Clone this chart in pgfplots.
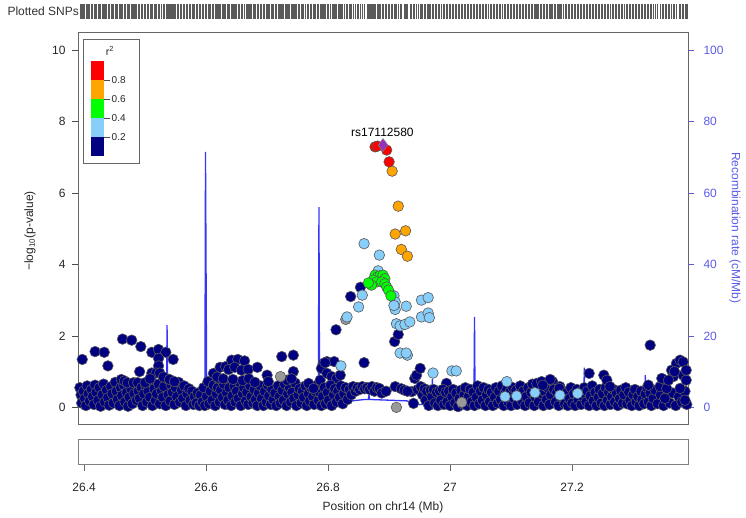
\documentclass[border=0pt]{standalone}
\usepackage{fontspec}
\setmainfont{Liberation Sans}
\usepackage{pgfplots}
\pgfplotsset{compat=1.18}
\usepackage{pgfplotstable}

\definecolor{snpnavy}{HTML}{000080}
\definecolor{snplblue}{HTML}{87CEFA}
\definecolor{snpgreen}{HTML}{00FF00}
\definecolor{snporange}{HTML}{FFA500}
\definecolor{snpred}{HTML}{FF0000}
\definecolor{snppurple}{HTML}{9632B8}
\definecolor{snpgray}{HTML}{999999}
\definecolor{recline}{HTML}{3535F8}
\definecolor{rectext}{HTML}{5A5AE6}

% r2 < 0.2
\pgfplotstableread[row sep=\\]{
x y\\
26.393 0.55\\ 26.395 0.35\\ 26.396 0.12\\ 26.399 0.45\\ 26.401 0.25\\ 26.403 0.05\\ 26.405 0.6\\ 26.407 0.38\\
26.409 0.18\\ 26.412 0.5\\ 26.414 0.3\\ 26.416 0.08\\ 26.418 0.62\\ 26.42 0.42\\ 26.423 0.2\\ 26.425 0.55\\
26.427 0.03\\ 26.43 0.35\\ 26.432 0.65\\ 26.434 0.15\\ 26.437 0.48\\ 26.439 0.27\\ 26.441 0.06\\ 26.444 0.58\\
26.446 0.38\\ 26.448 0.12\\ 26.451 0.7\\ 26.453 0.45\\ 26.455 0.22\\ 26.458 0.05\\ 26.46 0.55\\ 26.462 0.33\\
26.465 0.62\\ 26.467 0.15\\ 26.47 0.42\\ 26.472 0.03\\ 26.474 0.28\\ 26.477 0.52\\ 26.479 0.1\\ 26.482 0.38\\
26.484 0.68\\ 26.486 0.2\\ 26.489 0.45\\
26.397 1.34\\ 26.418 1.56\\ 26.433 1.54\\ 26.439 1.16\\ 26.463 1.91\\ 26.478 1.88\\ 26.461 0.78\\ 26.466 0.74\\
26.471 0.69\\ 26.481 0.69\\ 26.491 1.0\\ 26.493 1.70\\ 26.488 0.69\\
26.491 0.25\\ 26.494 0.55\\ 26.496 0.05\\ 26.498 0.38\\ 26.501 0.62\\ 26.503 0.15\\ 26.505 0.45\\ 26.508 0.28\\
26.51 0.72\\ 26.512 0.05\\ 26.515 0.52\\ 26.517 0.2\\ 26.519 0.38\\ 26.522 0.65\\ 26.524 0.1\\ 26.527 0.45\\
26.529 0.28\\ 26.531 0.58\\ 26.534 0.05\\ 26.536 0.8\\ 26.538 0.35\\ 26.541 0.18\\ 26.543 0.62\\ 26.545 0.42\\
26.548 0.08\\ 26.55 0.55\\ 26.552 0.3\\ 26.555 0.7\\ 26.557 0.15\\ 26.56 0.48\\ 26.562 0.25\\ 26.564 0.6\\
26.567 0.05\\ 26.569 0.38\\ 26.572 0.52\\ 26.574 0.2\\ 26.577 0.45\\ 26.579 0.08\\ 26.581 0.3\\ 26.584 0.12\\
26.586 0.4\\ 26.589 0.05\\
26.511 1.54\\ 26.522 1.62\\ 26.534 1.54\\ 26.522 1.37\\ 26.522 1.16\\ 26.546 1.34\\ 26.511 0.96\\ 26.518 0.96\\
26.524 0.96\\ 26.5 0.69\\ 26.53 0.85\\ 26.54 0.78\\ 26.548 0.72\\ 26.508 0.8\\
26.591 0.35\\ 26.594 0.15\\ 26.596 0.55\\ 26.598 0.05\\ 26.601 0.3\\ 26.603 0.72\\ 26.605 0.1\\ 26.607 0.45\\
26.61 0.2\\ 26.612 0.62\\ 26.615 0.05\\ 26.617 0.38\\ 26.619 0.55\\ 26.622 0.15\\ 26.624 0.48\\ 26.627 0.28\\
26.629 0.65\\ 26.631 0.08\\ 26.634 0.4\\ 26.636 0.2\\ 26.638 0.55\\ 26.641 0.05\\ 26.643 0.32\\ 26.646 0.6\\
26.648 0.15\\ 26.65 0.45\\ 26.653 0.25\\ 26.655 0.7\\ 26.657 0.05\\ 26.66 0.38\\ 26.662 0.55\\ 26.665 0.18\\
26.667 0.42\\ 26.669 0.08\\ 26.672 0.6\\ 26.674 0.3\\ 26.677 0.12\\ 26.679 0.5\\ 26.681 0.22\\ 26.684 0.05\\
26.686 0.4\\ 26.689 0.6\\
26.612 0.95\\ 26.62 0.81\\ 26.623 1.12\\ 26.632 1.14\\ 26.637 1.06\\ 26.642 1.32\\ 26.618 0.85\\ 26.628 0.8\\
26.652 1.34\\ 26.663 1.30\\ 26.647 1.12\\ 26.658 1.04\\ 26.669 1.06\\ 26.684 1.12\\ 26.644 0.78\\ 26.66 0.75\\
26.67 0.8\\ 26.68 0.7\\
26.691 0.25\\ 26.694 0.05\\ 26.696 0.45\\ 26.699 0.15\\ 26.701 0.62\\ 26.703 0.32\\ 26.706 0.08\\ 26.708 0.5\\
26.71 0.22\\ 26.713 0.4\\ 26.715 0.05\\ 26.718 0.6\\ 26.72 0.3\\ 26.722 0.12\\ 26.725 0.48\\ 26.727 0.2\\
26.729 0.65\\ 26.732 0.05\\ 26.734 0.38\\ 26.737 0.55\\ 26.739 0.15\\ 26.741 0.42\\ 26.744 0.25\\ 26.746 0.68\\
26.748 0.05\\ 26.751 0.35\\ 26.753 0.52\\ 26.756 0.12\\ 26.758 0.45\\ 26.76 0.28\\ 26.763 0.6\\ 26.765 0.05\\
26.768 0.38\\ 26.77 0.18\\ 26.772 0.55\\ 26.775 0.3\\ 26.777 0.08\\ 26.779 0.45\\ 26.782 0.62\\ 26.784 0.2\\
26.787 0.4\\ 26.789 0.05\\
26.700 0.9\\ 26.702 0.72\\ 26.724 1.42\\ 26.743 1.46\\ 26.743 1.0\\ 26.733 0.76\\ 26.74 0.8\\ 26.768 0.67\\
26.776 0.53\\ 26.787 0.76\\ 26.792 1.23\\ 26.798 1.28\\ 26.81 1.28\\ 26.789 1.09\\ 26.798 0.95\\ 26.806 0.86\\
26.814 0.81\\ 26.795 1.25\\ 26.82 0.9\\
26.791 0.3\\ 26.794 0.55\\ 26.796 0.1\\ 26.799 0.42\\ 26.801 0.2\\ 26.804 0.62\\ 26.806 0.05\\ 26.809 0.35\\
26.811 0.52\\ 26.814 0.15\\ 26.816 0.45\\ 26.819 0.28\\ 26.821 0.6\\ 26.824 0.1\\ 26.826 0.38\\ 26.829 0.55\\
26.832 0.22\\ 26.835 0.5\\ 26.838 0.35\\ 26.841 0.58\\ 26.845 0.45\\ 26.848 0.55\\ 26.852 0.5\\ 26.856 0.58\\
26.86 0.52\\ 26.864 0.55\\ 26.868 0.5\\ 26.872 0.58\\ 26.876 0.45\\ 26.88 0.55\\ 26.884 0.53\\ 26.888 0.4\\
26.813 2.17\\ 26.837 3.10\\ 26.853 3.36\\ 26.859 1.25\\ 26.909 1.84\\ 26.915 2.04\\
26.895 0.45\\ 26.91 0.58\\ 26.937 0.44\\ 26.94 0.11\\ 26.942 0.81\\ 26.945 0.9\\ 26.951 1.09\\ 26.994 0.67\\
26.92 0.52\\ 26.925 0.48\\ 26.93 0.45\\ 26.947 0.5\\ 26.952 0.58\\ 26.955 0.35\\ 26.958 0.52\\ 26.96 0.2\\
26.962 0.45\\ 26.965 0.05\\ 26.968 0.48\\ 26.97 0.3\\ 26.973 0.5\\ 26.975 0.12\\ 26.978 0.42\\ 26.98 0.05\\
26.983 0.45\\ 26.985 0.2\\ 26.988 0.5\\ 26.99 0.08\\ 26.993 0.42\\ 26.995 0.15\\
26.998 0.45\\ 27.0 0.05\\ 27.003 0.3\\ 27.005 0.5\\ 27.008 0.12\\ 27.01 0.4\\ 27.013 0.02\\ 27.015 0.25\\
27.018 0.48\\ 27.02 0.1\\ 27.023 0.35\\ 27.025 0.55\\ 27.028 0.05\\ 27.03 0.3\\ 27.033 0.5\\ 27.035 0.15\\
27.038 0.42\\ 27.04 0.05\\ 27.043 0.28\\ 27.045 0.6\\ 27.048 0.1\\ 27.05 0.45\\ 27.053 0.2\\ 27.055 0.55\\
27.058 0.05\\ 27.06 0.35\\ 27.063 0.5\\ 27.065 0.15\\ 27.068 0.42\\ 27.07 0.05\\ 27.073 0.28\\ 27.075 0.55\\
27.078 0.12\\ 27.08 0.45\\ 27.083 0.22\\ 27.085 0.6\\ 27.088 0.05\\ 27.09 0.38\\
27.093 0.5\\ 27.095 0.15\\ 27.098 0.42\\ 27.1 0.05\\ 27.103 0.55\\ 27.105 0.25\\ 27.108 0.48\\ 27.11 0.08\\
27.113 0.38\\ 27.115 0.6\\ 27.118 0.18\\ 27.12 0.45\\ 27.123 0.05\\ 27.125 0.3\\ 27.128 0.55\\ 27.13 0.12\\
27.133 0.42\\ 27.135 0.65\\ 27.138 0.05\\ 27.14 0.28\\ 27.143 0.5\\ 27.145 0.15\\ 27.148 0.62\\ 27.15 0.38\\
27.153 0.05\\ 27.155 0.45\\ 27.158 0.22\\ 27.16 0.55\\ 27.163 0.08\\ 27.165 0.35\\ 27.168 0.72\\ 27.17 0.5\\
27.173 0.15\\ 27.175 0.42\\ 27.178 0.05\\ 27.18 0.58\\ 27.183 0.28\\ 27.185 0.45\\ 27.188 0.1\\
27.142 0.67\\ 27.15 0.72\\ 27.164 0.78\\ 27.152 0.62\\ 27.179 0.53\\ 27.199 0.48\\
27.191 0.4\\ 27.193 0.05\\ 27.196 0.25\\ 27.198 0.55\\ 27.2 0.12\\ 27.203 0.38\\ 27.205 0.05\\ 27.208 0.5\\
27.21 0.22\\ 27.213 0.42\\ 27.215 0.08\\ 27.218 0.3\\ 27.22 0.55\\ 27.223 0.15\\ 27.225 0.45\\ 27.228 0.05\\
27.23 0.32\\ 27.233 0.6\\ 27.235 0.18\\ 27.238 0.42\\ 27.24 0.05\\ 27.243 0.28\\ 27.245 0.5\\ 27.248 0.12\\
27.25 0.38\\ 27.253 0.05\\ 27.255 0.55\\ 27.258 0.2\\ 27.26 0.42\\ 27.263 0.08\\ 27.265 0.3\\ 27.268 0.5\\
27.27 0.15\\ 27.273 0.4\\ 27.275 0.05\\ 27.278 0.25\\ 27.28 0.48\\ 27.283 0.12\\ 27.285 0.35\\ 27.288 0.55\\
27.228 0.95\\ 27.252 0.9\\ 27.257 0.76\\ 27.262 0.58\\
27.29 0.1\\ 27.293 0.42\\ 27.295 0.2\\ 27.298 0.05\\ 27.3 0.35\\ 27.303 0.5\\ 27.305 0.15\\ 27.308 0.3\\
27.31 0.05\\ 27.313 0.45\\ 27.315 0.22\\ 27.318 0.1\\ 27.32 0.38\\ 27.323 0.55\\ 27.325 0.15\\ 27.328 0.4\\
27.33 0.05\\ 27.333 0.25\\ 27.336 0.48\\ 27.34 0.1\\ 27.345 0.35\\ 27.35 0.05\\ 27.355 0.3\\ 27.36 0.12\\
27.365 0.4\\ 27.37 0.05\\ 27.375 0.3\\ 27.38 0.15\\ 27.385 0.45\\ 27.388 0.08\\
27.328 1.74\\ 27.325 0.62\\ 27.344 0.58\\ 27.347 0.81\\ 27.352 0.25\\ 27.355 0.53\\ 27.363 1.04\\ 27.366 0.86\\
27.371 1.23\\ 27.377 1.32\\ 27.382 1.27\\ 27.377 0.53\\ 27.382 0.90\\ 27.385 0.2\\ 27.387 0.76\\ 27.387 1.04\\
27.358 0.76\\ 27.368 1.0\\
}\tabnavy

% r2 not available
\pgfplotstableread[row sep=\\]{
x y\\
26.722 0.86\\ 26.829 2.46\\ 26.912 0.0\\ 27.019 0.14\\
}\tabgrey

% 0.2 <= r2 < 0.4
\pgfplotstableread[row sep=\\]{
x y\\
26.859 4.58\\ 26.884 4.26\\ 26.882 3.82\\ 26.856 3.14\\ 26.85 2.81\\ 26.831 2.53\\ 26.908 3.12\\ 26.91 2.95\\
26.91 2.74\\ 26.908 2.85\\ 26.928 2.83\\ 26.953 3.00\\ 26.964 3.07\\ 26.953 2.53\\ 26.964 2.64\\ 26.966 2.51\\
26.912 2.34\\ 26.918 2.28\\ 26.926 2.32\\ 26.934 2.39\\ 26.918 1.52\\ 26.93 1.46\\ 26.928 1.52\\ 26.972 0.96\\
27.003 1.02\\ 27.01 1.02\\ 26.821 1.16\\ 27.09 0.30\\ 27.093 0.72\\ 27.109 0.32\\ 27.139 0.41\\ 27.18 0.34\\
27.209 0.39\\
}\tablblue

% 0.4 <= r2 < 0.6
\pgfplotstableread[row sep=\\]{
x y\\
26.877 3.70\\ 26.881 3.65\\ 26.885 3.68\\ 26.89 3.70\\ 26.893 3.60\\ 26.874 3.56\\ 26.869 3.46\\ 26.88 3.51\\
26.888 3.51\\ 26.893 3.46\\ 26.896 3.37\\ 26.899 3.28\\ 26.903 3.12\\ 26.871 3.42\\ 26.866 3.48\\
}\tabgreen

% 0.6 <= r2 < 0.8
\pgfplotstableread[row sep=\\]{
x y\\
26.905 6.61\\ 26.915 5.63\\ 26.91 4.85\\ 26.927 4.94\\ 26.92 4.42\\ 26.93 4.23\\
}\taborange

% r2 >= 0.8
\pgfplotstableread[row sep=\\]{
x y\\
26.877 7.29\\ 26.881 7.31\\ 26.896 7.20\\ 26.9 6.87\\
}\tabred

% index SNP
\pgfplotstableread[row sep=\\]{
x y\\
26.89 7.34\\
}\tablead

% recombination rate, cM/Mb
\pgfplotstableread[row sep=\\]{
x r\\
26.39 0.8\\ 26.45 1.0\\ 26.5 0.9\\ 26.535 1.2\\ 26.536 23\\ 26.537 1.5\\ 26.56 0.8\\ 26.598 1.0\\
26.599 71.5\\ 26.601 3\\ 26.619 3\\ 26.62 8.5\\ 26.63 8.5\\ 26.631 3\\ 26.65 2\\ 26.7 1.5\\
26.75 1\\ 26.784 1.2\\ 26.785 56\\ 26.786 2\\ 26.82 1.5\\ 26.821 8\\ 26.822 1.5\\ 26.86 2.2\\
26.866 2.2\\ 26.867 3.5\\ 26.868 2.2\\ 26.9 2\\ 26.93 1.8\\ 26.94 0.8\\ 26.97 0.8\\ 26.971 8\\
26.972 0.8\\ 27.0 0.5\\ 27.039 0.5\\ 27.04 25.3\\ 27.041 0.5\\ 27.1 0.6\\ 27.15 0.8\\ 27.219 0.8\\
27.22 11.1\\ 27.221 1\\ 27.28 0.8\\ 27.319 0.8\\ 27.32 9\\ 27.321 1\\ 27.36 1\\ 27.39 1.2\\
}\tabrecomb

\begin{document}
\begin{tikzpicture}[x=1pt,y=1pt]
\useasboundingbox (0,0) rectangle (746,518);
\pgfplotsset{
  every tick label/.append style={font=\fontsize{12}{14}\selectfont},
  /pgf/number format/assume math mode=true,
  snp/.style={only marks, mark=*, mark size=5.3pt,
    mark options={fill=#1, draw=black!65, line width=0.6pt}},
  rug/.style={ycomb, no markers, black!65, line width=0.5pt},
}

% top rug of plotted SNPs
\node[anchor=west, font=\fontsize{12}{14}\selectfont, text=black!80] at (4,507) {Plotted SNPs};
\begin{axis}[at={(78pt,499pt)}, anchor=south west, width=610pt, height=15pt, scale only axis,
  xmin=26.39, xmax=27.39, ymin=0, ymax=1, hide axis, clip=false]
  \addplot[rug] table[x=x, y expr=1] {\tabnavy};
  \addplot[rug] table[x=x, y expr=1] {\tabgrey};
  \addplot[rug] table[x=x, y expr=1] {\tablblue};
  \addplot[rug] table[x=x, y expr=1] {\tabgreen};
  \addplot[rug] table[x=x, y expr=1] {\taborange};
  \addplot[rug] table[x=x, y expr=1] {\tabred};
  \addplot[rug] table[x=x, y expr=1] {\tablead};
\end{axis}

% recombination rate (right axis)
\begin{axis}[at={(78pt,93.5pt)}, anchor=south west, width=610pt, height=392pt, scale only axis,
  xmin=26.39, xmax=27.39, ymin=-4.8, ymax=104.9,
  hide x axis, axis y line*=right, y axis line style={draw=none},
  ytick={0,20,40,60,80,100}, tick align=outside, major tick length=6pt,
  ytick style={rectext, line width=0.6pt},
  yticklabel style={text=rectext, xshift=6pt}]
  \addplot[recline, line width=1.3pt] table[x=x, y=r] {\tabrecomb};
\end{axis}

% association p-values
\begin{axis}[at={(78pt,93.5pt)}, anchor=south west, width=610pt, height=392pt, scale only axis,
  xmin=26.39, xmax=27.39, ymin=-0.48, ymax=10.49,
  xtick=\empty, ytick={0,2,4,6,8,10}, ytick pos=left,
  tick align=outside, major tick length=6pt,
  axis line style={black!60, line width=0.6pt},
  ytick style={black!70, line width=0.6pt},
  yticklabel style={text=black!85, xshift=-3pt}]
  \addplot[snp=snpnavy] table {\tabnavy};
  \addplot[snp=snpgray] table {\tabgrey};
  \addplot[snp=snplblue] table {\tablblue};
  \addplot[snp=snpgreen] table {\tabgreen};
  \addplot[snp=snporange] table {\taborange};
  \addplot[snp=snpred] table {\tabred};
  \addplot[only marks, mark=diamond*, mark size=6.5pt,
    mark options={fill=snppurple, draw=black!50, line width=0.5pt}] table {\tablead};
  \node[anchor=south, font=\fontsize{12}{14}\selectfont, inner sep=1pt]
    at (axis cs:26.889,7.34) [yshift=7pt] {rs17112580};
\end{axis}

% r2 legend
\draw[black!60, line width=0.6pt, fill=white] (83,479) rectangle (139,355);
\node[font=\fontsize{10.5}{12}\selectfont, text=black!85] at (110,467) {r\textsuperscript{2}};
\fill[snpred] (91,457) rectangle (104,438);
\fill[snporange] (91,438) rectangle (104,419);
\fill[snpgreen] (91,419) rectangle (104,400);
\fill[snplblue] (91,400) rectangle (104,381);
\fill[snpnavy] (91,381) rectangle (104,362);
\foreach \yy/\lab in {438/0.8, 419/0.6, 400/0.4, 381/0.2}{
  \draw[black!70, line width=0.5pt] (104,\yy) -- (110,\yy);
  \node[anchor=west, inner sep=1pt, font=\fontsize{10}{12}\selectfont, text=black!85] at (110.5,\yy) {\lab};
}

% axis titles
\node[rotate=90, font=\fontsize{12}{14}\selectfont, text=black!85] at (30,287) {−log\textsubscript{10}(p-value)};
\node[rotate=-90, font=\fontsize{12}{14}\selectfont, text=rectext] at (735,290) {Recombination rate (cM/Mb)};

% gene panel with position axis
\begin{axis}[at={(78pt,54pt)}, anchor=south west, width=610pt, height=25pt, scale only axis,
  xmin=26.39, xmax=27.39, ymin=0, ymax=1, ytick=\empty,
  xtick={26.4,26.6,26.8,27,27.2}, xtick pos=bottom,
  tick align=outside, major tick length=7pt,
  axis line style={black!50, line width=0.6pt},
  xtick style={black!60, line width=0.6pt},
  xticklabel style={text=black!85, yshift=-9pt}]
\end{axis}
\node[font=\fontsize{12}{14}\selectfont, text=black!85] at (383,11) {Position on chr14 (Mb)};
\end{tikzpicture}
\end{document}
